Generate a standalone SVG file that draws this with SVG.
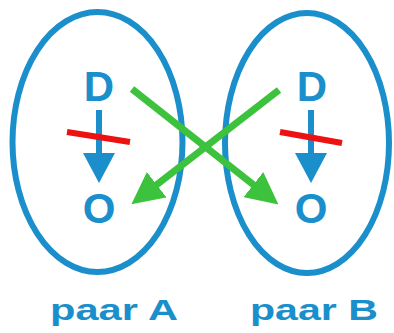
<svg xmlns="http://www.w3.org/2000/svg" width="394" height="333" viewBox="0 0 394 333">
<style>
.ell{fill:none;stroke:#1a8fcb;stroke-width:6}
.let{font-family:"Liberation Sans",Arial,sans-serif;font-weight:bold;fill:#1a8fcb;text-anchor:middle}
.blue{stroke:#1a8fcb;stroke-width:6;fill:none}
.red{stroke:#ee1111;stroke-width:6;fill:none}
.green{stroke:#3cc23c;stroke-width:7;fill:none}
</style>
<defs>
<marker id="bh" markerUnits="userSpaceOnUse" markerWidth="32" markerHeight="32" viewBox="0 0 30 32" refX="2" refY="16" orient="auto"><path d="M0,0 L30,16 L0,32 Z" fill="#1a8fcb"/></marker>
<marker id="gh" markerUnits="userSpaceOnUse" markerWidth="32" markerHeight="32" viewBox="0 0 30 30" refX="2" refY="15" orient="auto"><path d="M0,0 L30,15 L0,30 Z" fill="#3cc23c"/></marker>
</defs>
<rect width="394" height="333" fill="#ffffff"/>
<g id="pairA">
<ellipse class="ell" cx="97.5" cy="142" rx="85" ry="130"/>
<text class="let" x="99" y="101" font-size="42">D</text>
<text class="let" x="99" y="223" font-size="42">O</text>
<line class="blue" x1="99" y1="110" x2="99" y2="155" marker-end="url(#bh)"/>
<line class="red" x1="67" y1="132" x2="130" y2="142"/>
<text class="let" x="114" y="320" font-size="29" textLength="128" lengthAdjust="spacingAndGlyphs">paar A</text>
</g>
<g id="pairB">
<ellipse class="ell" cx="307" cy="143" rx="82" ry="130"/>
<text class="let" x="312" y="101" font-size="42">D</text>
<text class="let" x="311" y="223" font-size="42">O</text>
<line class="blue" x1="311" y1="110" x2="311" y2="155" marker-end="url(#bh)"/>
<line class="red" x1="280" y1="132" x2="342" y2="143"/>
<text class="let" x="314" y="320" font-size="29" textLength="128" lengthAdjust="spacingAndGlyphs">paar B</text>
</g>
<g id="connectors">
<line class="green" x1="132" y1="89" x2="255" y2="186" marker-end="url(#gh)"/>
<line class="green" x1="279" y1="90" x2="155" y2="186" marker-end="url(#gh)"/>
</g>
</svg>
